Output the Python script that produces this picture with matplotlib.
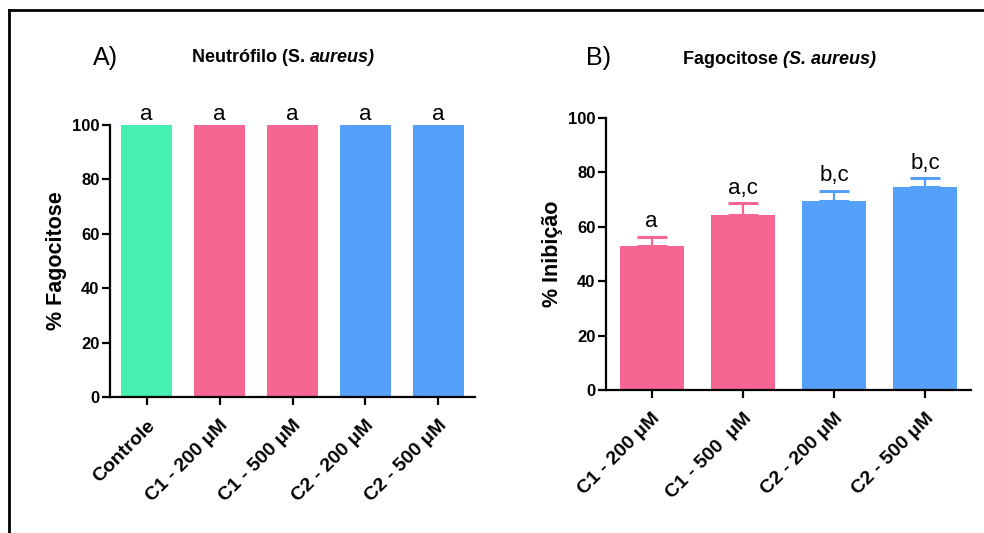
import numpy as np
import matplotlib.pyplot as plt
from matplotlib.lines import Line2D

plt.rcParams['font.family'] = ['Liberation Sans', 'DejaVu Sans']

# panel A: neutrophil phagocytosis
labels_a = ['Controle', 'C1 - 200 μM', 'C1 - 500 μM', 'C2 - 200 μM', 'C2 - 500 μM']
values_a = [100, 100, 100, 100, 100]
letters_a = ['a', 'a', 'a', 'a', 'a']

# panel B: inhibition of phagocytosis
labels_b = ['C1 - 200 μM', 'C1 - 500  μM', 'C2 - 200 μM', 'C2 - 500 μM']
values_b = [53.0, 64.3, 69.5, 74.6]
errors_b = [3.4, 4.4, 3.7, 3.3]
letters_b = ['a', 'a,c', 'b,c', 'b,c']

green = '#45F0B0'
pink = '#F76593'
blue = '#55A0FA'
colors_a = [green, pink, pink, blue, blue]
colors_b = [pink, pink, blue, blue]

W, H = 984, 533
fig = plt.figure(figsize=(W / 100, H / 100), dpi=100)


def px_axes(x0, x1, y_top, y_bot):
    return fig.add_axes([x0 / W, 1 - y_bot / H, (x1 - x0) / W, (y_bot - y_top) / H])


def style(ax, n):
    for s in ['top', 'right']:
        ax.spines[s].set_visible(False)
    for s in ['left', 'bottom']:
        ax.spines[s].set_linewidth(1.6)
    ax.set_xlim(-0.5, n - 0.5)
    ax.set_ylim(0, 100)
    ax.set_yticks([0, 20, 40, 60, 80, 100])
    ax.tick_params(axis='both', direction='out', length=5.5, width=1.6, pad=2)
    ax.tick_params(axis='x', pad=9)
    for t in ax.get_yticklabels():
        t.set_fontsize(12)
        t.set_fontweight('bold')


ax_a = px_axes(110, 475, 125, 397)
x_a = np.arange(len(values_a))
ax_a.bar(x_a, values_a, width=0.7, color=colors_a)
style(ax_a, len(values_a))
ax_a.set_xticks(x_a)
ax_a.set_xticklabels(labels_a, rotation=45, ha='right', rotation_mode='anchor',
                     fontsize=14, fontweight='bold')
for x, v, s in zip(x_a, values_a, letters_a):
    ax_a.text(x, v + 2, s, ha='center', va='baseline', fontsize=16)
ax_a.set_ylabel('% Fagocitose', fontsize=15.5, fontweight='bold', labelpad=4)

ax_b = px_axes(606, 971, 118, 390)
x_b = np.arange(len(values_b))
ax_b.bar(x_b, values_b, width=0.7, color=colors_b)
for x, v, e, c in zip(x_b, values_b, errors_b, colors_b):
    ax_b.errorbar(x, v, yerr=[[0], [e]], fmt='none', ecolor=c,
                  elinewidth=1.6, capsize=11, capthick=2.2)
style(ax_b, len(values_b))
ax_b.set_xticks(x_b)
ax_b.set_xticklabels(labels_b, rotation=45, ha='right', rotation_mode='anchor',
                     fontsize=14, fontweight='bold')
for x, v, e, s in zip(x_b, values_b, errors_b, letters_b):
    ax_b.text(x, v + e + 3.5, s, ha='center', va='baseline', fontsize=16)
ax_b.set_ylabel('% Inibição', fontsize=15.5, fontweight='bold', labelpad=4)

# panel letters
fig.text(93 / W, 1 - 58 / H, 'A)', fontsize=18, ha='left', va='center')
fig.text(586 / W, 1 - 58 / H, 'B)', fontsize=18, ha='left', va='center')

# titles with an italic species name
renderer = fig.canvas.get_renderer()


def two_part_title(x_px, y_px, first, second):
    t1 = fig.text(x_px / W, 1 - y_px / H, first, fontsize=13, fontweight='bold',
                  ha='left', va='center')
    bb = t1.get_window_extent(renderer)
    fig.text(bb.x1 / W, 1 - y_px / H, second, fontsize=13, fontweight='bold',
             fontstyle='italic', ha='left', va='center')


two_part_title(192, 58, 'Neutrófilo (S. ', 'aureus)')
two_part_title(683, 60, 'Fagocitose ', '(S. aureus)')

# frame around the figure
fig.add_artist(Line2D([9 / W, 1], [1 - 10 / H, 1 - 10 / H], color='black',
                      lw=2, transform=fig.transFigure))
fig.add_artist(Line2D([9 / W, 9 / W], [0, 1 - 10 / H], color='black',
                      lw=2, transform=fig.transFigure))

fig.savefig('out.png', dpi=100)
